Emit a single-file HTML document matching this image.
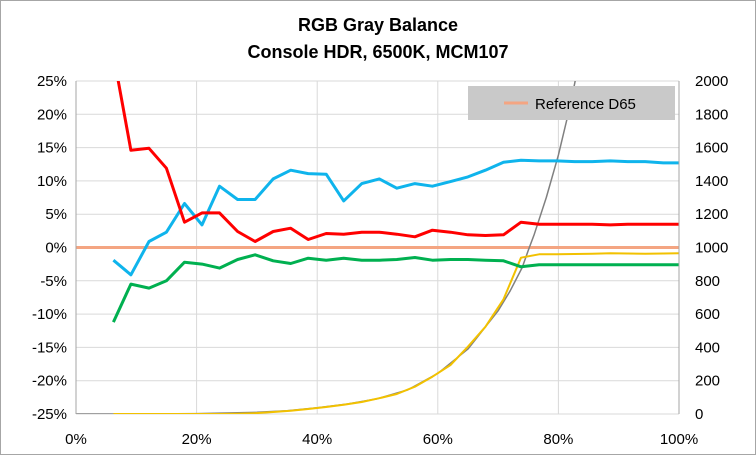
<!DOCTYPE html>
<html><head><meta charset="utf-8"><style>
html,body{margin:0;padding:0;background:#fff}
svg{display:block;font-family:"Liberation Sans",sans-serif}
</style></head><body>
<svg id="chart" width="756" height="455" viewBox="0 0 756 455">
<rect x="0.5" y="0.5" width="755" height="454" fill="#fff" stroke="#a6a6a6"/>
<text x="378" y="31" text-anchor="middle" font-size="18" font-weight="bold" fill="#000">RGB Gray Balance</text>
<text x="378" y="58" text-anchor="middle" font-size="18" font-weight="bold" fill="#000">Console HDR, 6500K, MCM107</text>
<g id="grid"></g><g id="series"></g><g id="axes"></g>
<g>
<rect x="468" y="86" width="207" height="34" fill="#c9c9c9"/>
<line x1="504" y1="103" x2="528" y2="103" stroke="#f4a582" stroke-width="3"/>
<text x="535" y="109" font-size="15" fill="#000">Reference D65</text>
</g>
</svg>
<script>
const xs=[6.2,9.1,12.1,15.0,18.0,20.9,23.8,26.8,29.7,32.7,35.6,38.5,41.5,44.4,47.4,50.3,53.2,56.2,59.1,62.1,65.0,67.9,70.9,73.8,76.8,79.7,82.7,85.6,88.6,91.5,94.4,97.4,100];
const red=[29,14.6,14.9,11.9,3.8,5.2,5.2,2.4,0.9,2.4,2.9,1.2,2.1,2.0,2.3,2.3,2.0,1.6,2.6,2.3,1.9,1.8,1.9,3.8,3.5,3.5,3.5,3.5,3.4,3.5,3.5,3.5,3.5];
const blue=[-1.9,-4.1,0.9,2.3,6.6,3.4,9.2,7.2,7.2,10.3,11.6,11.1,11.0,7.0,9.6,10.3,8.9,9.6,9.2,9.9,10.6,11.6,12.8,13.1,13.0,13.0,12.9,12.9,13.0,12.9,12.9,12.7,12.7];
const green=[-11.2,-5.5,-6.1,-5.0,-2.2,-2.5,-3.1,-1.8,-1.1,-2.0,-2.4,-1.6,-1.9,-1.6,-1.9,-1.9,-1.8,-1.5,-1.9,-1.8,-1.8,-1.9,-2.0,-2.9,-2.6,-2.6,-2.6,-2.6,-2.6,-2.6,-2.6,-2.6,-2.6];
const yellow=[0,0,0,0,0,0,0,2,5,12,20,30,42,56,72,95,120,164,224,294,404,524,689,939,959,960,961,963,965,964,963,964,965];
const grayX=[0,10,20,30,35,40,45,50,55,60,65,70,72,74,75,76,78,80,82,83];
const grayNits=[0,0.3,2.4,10,19,38,60,92,145,244,390,620,740,880,983,1080,1300,1555,1860,2040];
const leftTicks=[-25,-20,-15,-10,-5,0,5,10,15,20,25];
const rightTicks=[0,200,400,600,800,1000,1200,1400,1600,1800,2000];
const xTicks=[0,20,40,60,80,100];
const X0=76,X1=679,Y0=414,Y1=81;
const sx=v=>X0+(v/100)*(X1-X0);
const syL=v=>Y0-((v+25)/50)*(Y0-Y1);
const syR=v=>Y0-(v/2000)*(Y0-Y1);
const NS="http://www.w3.org/2000/svg";
const grid=document.getElementById('grid'),series=document.getElementById('series'),axes=document.getElementById('axes');
function mk(tag,attrs,parent){const e=document.createElementNS(NS,tag);for(const k in attrs)e.setAttribute(k,attrs[k]);parent.appendChild(e);return e;}
leftTicks.forEach((t,i)=>{
  const y=syL(t);
  const l=mk('line',{x1:X0,x2:X1,y1:y,y2:y,stroke:'#d9d9d9','stroke-width':1},grid);
  
  
  const tx=mk('text',{x:X0-9,y:y+5,'text-anchor':'end','font-size':15,fill:'#000'},axes);
  tx.textContent=t+'%';
  
  
});
rightTicks.forEach(t=>{
  const y=syR(t);
  const tx=mk('text',{x:X1+16,y:y+5,'text-anchor':'start','font-size':15,fill:'#000'},axes);
  tx.textContent=t;
  
  
});
xTicks.forEach(t=>{
  const x=sx(t);
  const l=mk('line',{x1:x,x2:x,y1:Y1,y2:Y0,stroke:'#d9d9d9','stroke-width':1},grid);
  
  
  const tx=mk('text',{x:x,y:444,'text-anchor':'middle','font-size':15,fill:'#000'},axes);
  tx.textContent=t+'%';
  
  
});
const la=mk('line',{x1:X0,x2:X0,y1:Y1,y2:Y0,stroke:'#a6a6a6'},axes);


const ra=mk('line',{x1:X1,x2:X1,y1:Y1,y2:Y0,stroke:'#a6a6a6'},axes);


const cp=mk('clipPath',{id:'clip'},series);
mk('rect',{x:X0,y:Y1,width:X1-X0,height:Y0-Y1},cp);
function line(xv,yv,sy,color,w,name){
  const pts=xv.map((x,i)=>sx(x).toFixed(1)+','+sy(yv[i]).toFixed(1)).join(' ');
  const p=mk('polyline',{points:pts,fill:'none',stroke:color,'stroke-width':w,'stroke-linejoin':'round','clip-path':'url(#clip)'},series);
  
  
}
const ref=mk('line',{x1:X0,x2:X1,y1:syL(0),y2:syL(0),stroke:'#f4a582','stroke-width':3},series);


line(grayX,grayNits,syR,'#808080',1.5,'target-eotf-line');
line(xs,yellow,syR,'#f2c100',2,'measured-luminance-line');
line(xs,green,syL,'#00b050',3,'green-series');
line(xs,blue,syL,'#0fb4ec',3,'blue-series');
line(xs,red,syL,'#ff0000',3,'red-series');
</script>
</body></html>
